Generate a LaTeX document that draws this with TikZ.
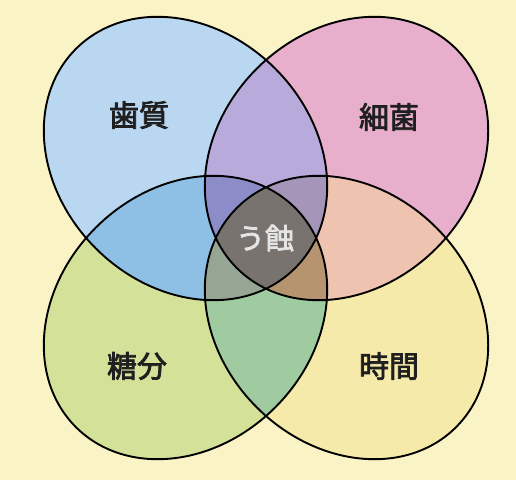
\documentclass[tikz,border=0pt]{standalone}
\usepackage{fontspec}
\newfontfamily\jpfont[FakeBold=2.5]{Noto Sans CJK JP}
\definecolor{bgyellow}{RGB}{250,243,198}
\definecolor{cB}{RGB}{185,215,240}
\definecolor{cP}{RGB}{232,175,205}
\definecolor{cG}{RGB}{212,225,152}
\definecolor{cY}{RGB}{245,234,170}
\definecolor{cBP}{RGB}{185,170,220}
\definecolor{cBG}{RGB}{142,192,230}
\definecolor{cPY}{RGB}{238,195,175}
\definecolor{cGY}{RGB}{160,202,160}
\definecolor{cBPG}{RGB}{140,140,200}
\definecolor{cBPY}{RGB}{165,150,185}
\definecolor{cBGY}{RGB}{150,165,148}
\definecolor{cPGY}{RGB}{182,148,112}
\definecolor{cAll}{RGB}{120,115,110}
\tikzset{
  label text/.style={font=\jpfont\fontsize{30}{36}\selectfont, text=black!88},
  center text/.style={font=\jpfont\fontsize{29}{35}\selectfont, text=white!90!black}
}
\begin{document}
\begin{tikzpicture}[x=1pt,y=1pt]
\def\blueegg{(185.5,321.5) ellipse [x radius=155pt, y radius=127pt, rotate=-45]}
\def\pinkegg{(346.5,321.5) ellipse [x radius=155pt, y radius=127pt, rotate=45]}
\def\greenegg{(185.5,162.5) ellipse [x radius=155pt, y radius=127pt, rotate=45]}
\def\yellowegg{(346.5,162.5) ellipse [x radius=155pt, y radius=127pt, rotate=-45]}

\useasboundingbox (0,0) rectangle (516,480);
\fill[bgyellow] (0,0) rectangle (516,480);

% single areas
\fill[cB] \blueegg;
\fill[cP] \pinkegg;
\fill[cG] \greenegg;
\fill[cY] \yellowegg;

% two at a time
\begin{scope}
\clip \blueegg;
\fill[cBP] \pinkegg;
\fill[cBG] \greenegg;
\end{scope}
\begin{scope}
\clip \yellowegg;
\fill[cPY] \pinkegg;
\fill[cGY] \greenegg;
\end{scope}

% three at a time
\begin{scope}
\clip \blueegg; \clip \pinkegg;
\fill[cBPG] \greenegg;
\fill[cBPY] \yellowegg;
\end{scope}
\begin{scope}
\clip \greenegg; \clip \yellowegg;
\fill[cBGY] \blueegg;
\fill[cPGY] \pinkegg;
\end{scope}

% all four: caries
\begin{scope}
\clip \blueegg; \clip \pinkegg; \clip \greenegg;
\fill[cAll] \yellowegg;
\end{scope}

\draw[line width=1.9pt] \blueegg \pinkegg \greenegg \yellowegg;

\node[label text] (enamel) at (139,365) {歯質};
\node[label text] (germs) at (389,363) {細菌};
\node[label text] (sugar) at (137,114) {糖分};
\node[label text] (timespan) at (389,114) {時間};
\node[center text] (caries) at (265,242) {う蝕};
\end{tikzpicture}
\end{document}
